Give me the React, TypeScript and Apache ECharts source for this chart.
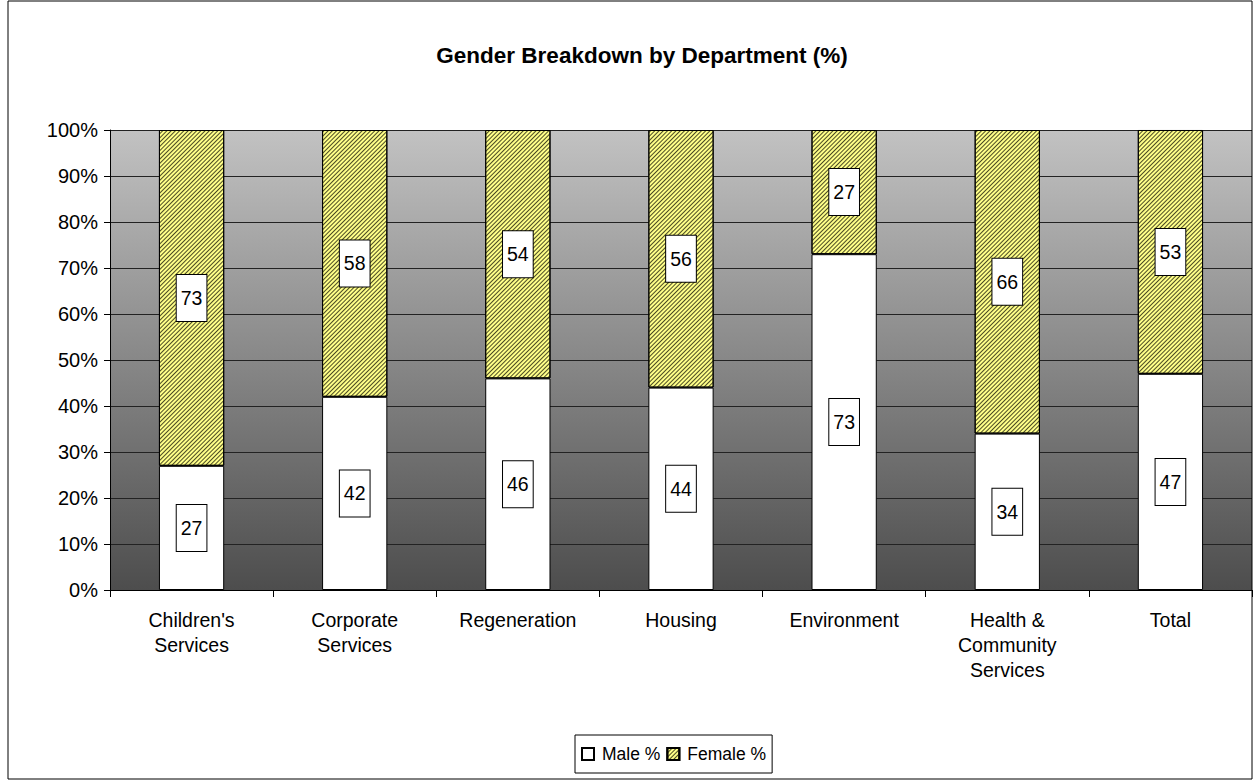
import React, { useEffect, useRef } from "react";
import * as echarts from "echarts";

const categories = [
  "Children's\nServices",
  "Corporate\nServices",
  "Regeneration",
  "Housing",
  "Environment",
  "Health &\nCommunity\nServices",
  "Total",
];
const maleValues = [27, 42, 46, 44, 73, 34, 47];
const femaleValues = [73, 58, 54, 56, 27, 66, 53];
const yTicks = [0, 10, 20, 30, 40, 50, 60, 70, 80, 90, 100];

const FONT = "Arial, 'Liberation Sans', sans-serif";

export default function App() {
  const ref = useRef<HTMLDivElement>(null);
  useEffect(() => {
    if (!ref.current) return;
    const chart = echarts.init(ref.current, undefined, { renderer: "svg" });
    const labelStyle = {
      show: true,
      position: "inside",
      color: "#000",
      fontSize: 19.5,
      fontFamily: FONT,
      backgroundColor: "#fff",
      borderColor: "#000",
      borderWidth: 1,
      padding: [14, 4, 12, 4],
      formatter: (p: any) => String(p.value),
    };
    chart.setOption({
      animation: false,
      backgroundColor: "#fff",
      textStyle: { fontFamily: FONT },
      title: {
        text: "Gender Breakdown by Department (%)",
        left: 637,
        textAlign: "center",
        top: 39,
        textStyle: { fontSize: 22.5, fontWeight: "bold", color: "#000", fontFamily: FONT },
      },
      graphic: [
        {
          type: "rect",
          shape: { x: 8, y: 1, width: 1244, height: 778 },
          style: { fill: "none", stroke: "#000", lineWidth: 1 },
          silent: true,
          z: 100,
        },
      ],
      legend: {
        left: 575,
        top: 735,
        orient: "horizontal",
        padding: [10, 6, 10, 6],
        borderColor: "#000",
        borderWidth: 1,
        itemWidth: 12,
        itemHeight: 12,
        itemGap: 6,
        textStyle: { fontSize: 17.5, color: "#000", fontFamily: FONT, padding: [0, 0, 0, 3] },
        data: [
          { name: "Male %", icon: "rect" },
          { name: "Female %", icon: "rect" },
        ],
      },
      grid: {
        left: 110,
        right: 2,
        top: 130,
        bottom: 190,
        show: true,
        borderWidth: 0,
        backgroundColor: {
          type: "linear",
          x: 0,
          y: 0,
          x2: 0,
          y2: 1,
          colorStops: [
            { offset: 0, color: "#c2c2c2" },
            { offset: 1, color: "#4d4d4d" },
          ],
        },
      },
      xAxis: {
        type: "category",
        data: categories,
        axisLine: { show: true, lineStyle: { color: "#000", width: 1 } },
        axisTick: { show: true, length: 7, lineStyle: { color: "#000" } },
        axisLabel: {
          color: "#000",
          fontSize: 19.5,
          fontFamily: FONT,
          margin: 17,
          lineHeight: 25,
          interval: 0,
        },
      },
      yAxis: {
        type: "value",
        min: 0,
        max: 100,
        interval: 10,
        axisLine: { show: true, lineStyle: { color: "#000", width: 1 } },
        axisTick: { show: true, length: 6, lineStyle: { color: "#000" } },
        axisLabel: {
          color: "#000",
          fontSize: 20,
          fontFamily: FONT,
          margin: 12,
          formatter: (v: number) => (yTicks.includes(v) ? v + "%" : ""),
        },
        splitLine: { show: true, lineStyle: { color: "#222", width: 1 } },
      },
      series: [
        {
          name: "Male %",
          type: "bar",
          stack: "g",
          barWidth: "40%",
          data: maleValues,
          itemStyle: { color: "#fff", borderColor: "#000", borderWidth: 1 },
          label: labelStyle,
        },
        {
          name: "Female %",
          type: "bar",
          stack: "g",
          barWidth: "40%",
          data: femaleValues,
          itemStyle: {
            color: "#ffff88",
            borderColor: "#000",
            borderWidth: 1,
            decal: {
              symbol: "rect",
              symbolSize: 1,
              dashArrayX: [1, 0],
              dashArrayY: [0.9, 2],
              rotation: -Math.PI / 4,
              color: "rgba(30,30,10,0.8)",
            },
          },
          label: labelStyle,
        },
      ],
    });
    return () => chart.dispose();
  }, []);
  return (
    <div
      ref={ref}
      style={{ position: "fixed", left: 0, top: 0, width: 1254, height: 780 }}
    />
  );
}
